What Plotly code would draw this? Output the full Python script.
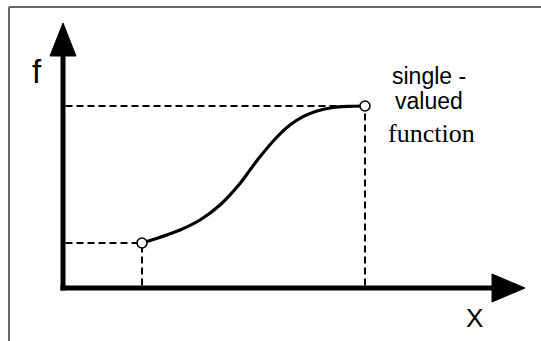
import plotly.graph_objects as go

# curve (axis units, origin at the corner of the axes)
curve_x = [79, 97, 117, 137, 157, 177, 187, 196, 214, 227, 240, 254, 270, 287, 302]
curve_y = [45, 50.7, 58, 68, 83, 104.5, 118, 130, 151, 163, 171.3, 177, 180.5, 181.7, 182]

# the two marked end points
point_x = [79, 302]
point_y = [45, 182]

# axis lengths (up to the arrow tips)
x_axis_end = 462
y_axis_end = 265

head_len = 33
head_half = 14

fig = go.Figure()

# axes with arrow heads
fig.add_trace(go.Scatter(x=[-2.5, x_axis_end - head_len], y=[0, 0], mode="lines",
                         line=dict(color="black", width=5)))
fig.add_trace(go.Scatter(x=[0, 0], y=[-2.5, y_axis_end - head_len], mode="lines",
                         line=dict(color="black", width=5)))
fig.add_trace(go.Scatter(
    x=[x_axis_end, x_axis_end - head_len, x_axis_end - head_len, x_axis_end],
    y=[0, head_half, -head_half, 0],
    mode="lines", fill="toself", fillcolor="black", line=dict(color="black", width=1)))
fig.add_trace(go.Scatter(
    x=[0, -head_half + 1, head_half - 1, 0],
    y=[y_axis_end, y_axis_end - head_len, y_axis_end - head_len, y_axis_end],
    mode="lines", fill="toself", fillcolor="black", line=dict(color="black", width=1)))

# dashed guide lines to the axes
for px, py in zip(point_x, point_y):
    fig.add_trace(go.Scatter(x=[2.5, px], y=[py, py], mode="lines",
                             line=dict(color="black", width=2, dash="7px,4px")))
    fig.add_trace(go.Scatter(x=[px, px], y=[2.5, py], mode="lines",
                             line=dict(color="black", width=2, dash="7px,4px")))

# the function
fig.add_trace(go.Scatter(x=curve_x, y=curve_y, mode="lines",
                         line=dict(color="black", width=3.2, shape="spline", smoothing=1.0)))

fig.add_trace(go.Scatter(x=point_x, y=point_y, mode="markers",
                         marker=dict(size=10, color="white", line=dict(color="black", width=1.6))))

# frame lines top and left
fig.add_shape(type="line", x0=-54, x1=490, y0=281, y1=281, line=dict(color="#666", width=2))
fig.add_shape(type="line", x0=-54, x1=-54, y0=281, y1=-70, line=dict(color="#666", width=2))

sans = "Liberation Sans, Arial, sans-serif"
serif = "Liberation Serif, Times New Roman, serif"
fig.add_annotation(x=-26, y=217, text="f", showarrow=False,
                   font=dict(family=sans, size=33, color="black"))
fig.add_annotation(x=411, y=-30, text="X", showarrow=False,
                   font=dict(family=sans, size=26, color="black"))
fig.add_annotation(x=366, y=212, text="single -", showarrow=False,
                   font=dict(family=sans, size=23, color="black"))
fig.add_annotation(x=366, y=187, text="valued", showarrow=False,
                   font=dict(family=sans, size=23, color="black"))
fig.add_annotation(x=368, y=155, text="function", showarrow=False,
                   font=dict(family=serif, size=26, color="black"))

fig.update_xaxes(range=[-63, 478], visible=False, fixedrange=True)
fig.update_yaxes(range=[-53, 288], visible=False, fixedrange=True)
fig.update_layout(width=541, height=341, margin=dict(l=0, r=0, t=0, b=0),
                  showlegend=False, plot_bgcolor="white", paper_bgcolor="white")

# drop the page's default body margin so the figure sits at the window corner
fig.write_html("out.html", config={"displayModeBar": False},
               post_script="document.body.style.margin='0';")
